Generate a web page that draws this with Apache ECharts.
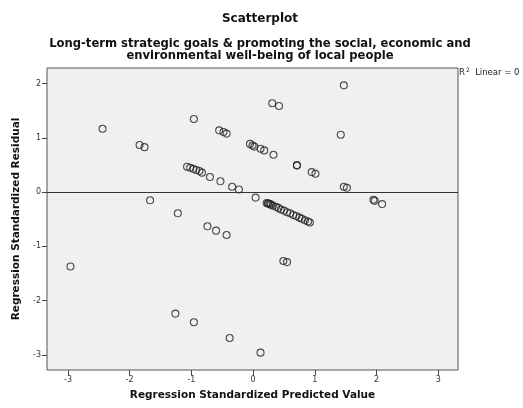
<!DOCTYPE html>
<html>
<head>
<meta charset="utf-8">
<script src="https://cdn.jsdelivr.net/npm/echarts@6/dist/echarts.min.js"></script>
<style>
  html, body { margin: 0; padding: 0; background: #ffffff; }
  #chart { width: 523px; height: 408px; }
</style>
</head>
<body>
<div id="chart"></div>
<script>
// Regression diagnostics: standardized predicted value vs standardized residual
const predicted = [
  -2.96, -2.44, -1.84, -1.76, -1.67, -1.22, -1.26, -0.96, -0.96,
  -1.07, -1.02, -0.97, -0.92, -0.87, -0.83,
  -0.70, -0.53, -0.34, -0.23, 0.04,
  -0.55, -0.48, -0.43,
  -0.74, -0.60, -0.43, -0.38,
  -0.05, -0.01, 0.02, 0.12, 0.18, 0.33,
  0.31, 0.42, 1.47, 1.42, 0.71, 0.71, 0.95, 1.01, 1.47, 1.52,
  1.95, 1.97, 2.09,
  0.22, 0.24, 0.25, 0.27, 0.29, 0.32, 0.37, 0.41, 0.45, 0.50,
  0.55, 0.60, 0.65, 0.70, 0.75, 0.79, 0.84, 0.89, 0.92,
  0.49, 0.55, 0.12
];
const residual = [
  -1.37, 1.17, 0.87, 0.83, -0.15, -0.39, -2.24, 1.35, -2.40,
  0.47, 0.45, 0.43, 0.41, 0.39, 0.36,
  0.28, 0.20, 0.10, 0.05, -0.10,
  1.14, 1.11, 1.08,
  -0.63, -0.71, -0.79, -2.69,
  0.89, 0.86, 0.84, 0.80, 0.77, 0.69,
  1.64, 1.59, 1.97, 1.06, 0.50, 0.49, 0.37, 0.34, 0.10, 0.08,
  -0.14, -0.16, -0.22,
  -0.20, -0.21, -0.21, -0.22, -0.23, -0.25, -0.27, -0.29, -0.32, -0.34,
  -0.37, -0.39, -0.42, -0.44, -0.47, -0.49, -0.52, -0.54, -0.56,
  -1.27, -1.29, -2.96
];
const xTicks = [-3, -2, -1, 0, 1, 2, 3];
const yTicks = [-3, -2, -1, 0, 1, 2];
const fitLevel = 0; // fitted line (R² Linear = 0)

const points = predicted.map((x, i) => [x, residual[i]]);

const chart = echarts.init(document.getElementById('chart'), null, { renderer: 'canvas' });
const font = 'DejaVu Sans';

chart.setOption({
  animation: false,
  backgroundColor: '#ffffff',
  grid: {
    left: 47, right: 65, top: 68, bottom: 38,
    show: true, backgroundColor: '#f0f0f0', borderColor: '#555', borderWidth: 1
  },
  xAxis: {
    type: 'value', min: -3.34, max: 3.32,
    axisLine: { show: false, onZero: false },
    splitLine: { show: false },
    axisTick: { show: true, length: 5, customValues: xTicks, lineStyle: { color: '#444' } },
    axisLabel: { customValues: xTicks, fontFamily: font, fontSize: 8, color: '#333', margin: 6 },
    name: 'Regression Standardized Predicted Value',
    nameLocation: 'middle', nameGap: 20,
    nameTextStyle: { fontFamily: font, fontSize: 10.5, fontWeight: 'bold', color: '#111' }
  },
  yAxis: {
    type: 'value', min: -3.28, max: 2.29,
    axisLine: { show: false, onZero: false },
    splitLine: { show: false },
    axisTick: { show: true, length: 5, customValues: yTicks, lineStyle: { color: '#444' } },
    axisLabel: { customValues: yTicks, fontFamily: font, fontSize: 8, color: '#333', margin: 6 },
    name: 'Regression Standardized Residual',
    nameLocation: 'middle', nameGap: 24, nameRotate: 90,
    nameTextStyle: { fontFamily: font, fontSize: 10.5, fontWeight: 'bold', color: '#111' }
  },
  graphic: [
    {
      type: 'text', x: 260, y: 13,
      style: {
        text: 'Scatterplot', align: 'center', verticalAlign: 'top',
        font: 'bold 12px "DejaVu Sans"', fill: '#111'
      }
    },
    {
      type: 'text', x: 260, y: 38,
      style: {
        text: 'Long-term strategic goals & promoting the social, economic and\nenvironmental well-being of local people',
        align: 'center', verticalAlign: 'top', lineHeight: 12,
        font: 'bold 11.6px "DejaVu Sans"', fill: '#111'
      }
    },
    {
      type: 'text', left: 459, top: 67,
      style: {
        text: '{r|R}{s|2}{r|  Linear = 0}',
        rich: {
          r: { fontFamily: font, fontSize: 8.5, fill: '#222', verticalAlign: 'bottom' },
          s: { fontFamily: font, fontSize: 6, fill: '#222', padding: [0, 0, 4, 1], verticalAlign: 'top' }
        }
      }
    }
  ],
  series: [
    {
      type: 'scatter',
      data: points,
      symbol: 'circle',
      symbolSize: 7,
      itemStyle: { color: 'rgba(0,0,0,0)', borderColor: '#222', borderWidth: 1.1 },
      silent: true,
      markLine: {
        silent: true,
        symbol: ['none', 'none'],
        label: { show: false },
        lineStyle: { color: '#333', width: 1, type: 'solid' },
        data: [{ yAxis: fitLevel }]
      },
      z: 3
    }
  ]
});
</script>
</body>
</html>
